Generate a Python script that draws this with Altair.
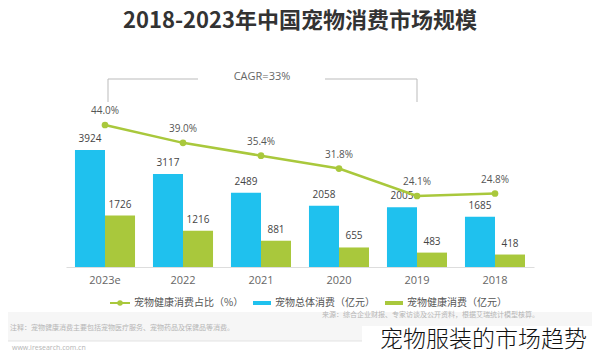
import altair as alt
import pandas as pd

years = ["2023e", "2022", "2021", "2020", "2019", "2018"]
total = [3924, 3117, 2489, 2058, 2005, 1685]
health = [1726, 1216, 881, 655, 483, 418]
pct = [44.0, 39.0, 35.4, 31.8, 24.1, 24.8]
pct_labels = ["44.0%", "39.0%", "35.4%", "31.8%", "24.1%", "24.8%"]
series_names = ["宠物总体消费（亿元）", "宠物健康消费（亿元）"]
title_text = "2018-2023年中国宠物消费市场规模"
cagr_text = "CAGR=33%"
line_name = "宠物健康消费占比（%）"
watermark = "宠物服装的市场趋势"

BLUE = "#1fc1ee"
GREEN = "#a9c83c"
FONT = "Open Sans"
CJK = "Noto Sans CJK SC"

bars_df = pd.DataFrame(
    [{"year": y, "series": series_names[0], "value": t} for y, t in zip(years, total)]
    + [{"year": y, "series": series_names[1], "value": h} for y, h in zip(years, health)]
)
line_df = pd.DataFrame({"year": years, "pct": pct, "label": pct_labels})

xenc = alt.X(
    "year:N", sort=years,
    scale=alt.Scale(paddingInner=0.23, paddingOuter=0.115),
    axis=alt.Axis(title=None, labelAngle=0, domainColor="#dddddd", ticks=False,
                  labelColor="#666666", labelFont=FONT, labelFontSize=11,
                  labelPadding=7, grid=False),
)
xoff = alt.XOffset("series:N", sort=series_names,
                   scale=alt.Scale(paddingInner=0, paddingOuter=0))
ybar = alt.Y("value:Q", scale=alt.Scale(domain=[0, 8686], nice=False, zero=True), axis=None)
colorenc = alt.Color("series:N", sort=series_names,
                     scale=alt.Scale(domain=series_names, range=[BLUE, GREEN]), legend=None)

bars = alt.Chart(bars_df).mark_bar().encode(x=xenc, xOffset=xoff, y=ybar, color=colorenc)
bar_text = alt.Chart(bars_df).mark_text(
    baseline="bottom", dy=-6, font=FONT, fontSize=10, color="#444444"
).encode(x=xenc, xOffset=xoff, y=ybar, text="value:Q")

yline = alt.Y("pct:Q", scale=alt.Scale(domain=[4.2, 76.8], nice=False, zero=False), axis=None)
line = alt.Chart(line_df).mark_line(color=GREEN, strokeWidth=2.5).encode(x=xenc, y=yline)
pts = alt.Chart(line_df).mark_point(color=GREEN, filled=True, size=45, opacity=1).encode(x=xenc, y=yline)
pct_text = alt.Chart(line_df).mark_text(
    baseline="bottom", dy=-9, font=FONT, fontSize=10, color="#555555"
).encode(x=xenc, y=yline, text="label:N")

one = alt.Data(values=[{"a": 1}])


def txt(s, x, y, size=10, color="#555555", align="center", font=CJK, weight="normal", baseline="middle"):
    return alt.Chart(one).mark_text(
        align=align, baseline=baseline, fontSize=size, color=color, font=font, fontWeight=weight
    ).encode(x=alt.value(x), y=alt.value(y), text=alt.value(s))


def rule(x, x2, y, y2=None, color="#bbbbbb", w=1):
    enc = dict(x=alt.value(x), x2=alt.value(x2), y=alt.value(y))
    if y2 is not None:
        enc["y2"] = alt.value(y2)
    return alt.Chart(one).mark_rule(color=color, strokeWidth=w).encode(**enc)


def rect(x, x2, y, y2, color):
    return alt.Chart(one).mark_rect(color=color).encode(
        x=alt.value(x), x2=alt.value(x2), y=alt.value(y), y2=alt.value(y2))


title = txt(title_text, 234, 13, size=22, color="#333333", weight="bold")
cagr = txt(cagr_text, 196, 69, size=11, color="#666666", font=FONT)
br1 = rule(42, 132, 71)
br2 = rule(259, 351, 71)
br3 = rule(42, 42, 71, 94)
br4 = rule(351, 351, 71, 94)

# legend (marker, then label)
lg_line = rule(44, 64, 295, color=GREEN, w=2)
lg_pt = alt.Chart(one).mark_point(color=GREEN, filled=True, size=30, opacity=1).encode(
    x=alt.value(54), y=alt.value(295))
lg_t1 = txt(line_name, 68, 295, size=10, align="left")
lg_r2 = rect(187, 205, 293, 297, BLUE)
lg_t2 = txt(series_names[0], 209, 295, size=10, align="left")
lg_r3 = rect(319, 337, 293, 297, GREEN)
lg_t3 = txt(series_names[1], 341, 295, size=10, align="left")

# footer
foot_bg = rect(-58, 526, 304, 333, "#f6f6f6")
foot1 = txt("来源：综合企业财报、专家访谈及公开资料，根据艾瑞统计模型核算。", 256, 307, size=7,
            color="#b5b5b5", align="left")
foot2 = txt("注释：宠物健康消费主要包括宠物医疗服务、宠物药品及保健品等消费。",
            -56, 320, size=7, color="#b5b5b5", align="left")
sep = rule(-58, 526, 333, color="#e3e3e3")
www = txt("www.iresearch.com.cn", -54, 340, size=7, color="#b5b5b5", align="left", font=FONT)
wm_bg = rect(296, 526, 318, 345, "#ffffff")
wm = txt(watermark, 521, 332, size=23, color="#111111", align="right", weight=300)

chart = alt.layer(
    foot_bg, foot1, foot2, sep, www,
    bars, bar_text, line, pts, pct_text,
    title, cagr, br1, br2, br3, br4,
    lg_line, lg_pt, lg_t1, lg_r2, lg_t2, lg_r3, lg_t3,
    wm_bg, wm,
).resolve_scale(y="independent").properties(
    width=468, height=259,
    autosize=alt.AutoSizeParams(type="none"),
    padding={"left": 58, "right": 58, "top": 0, "bottom": 86},
    background="white",
).configure_view(stroke=None)

chart.save("out.html", embed_options={"renderer": "svg", "actions": False})
